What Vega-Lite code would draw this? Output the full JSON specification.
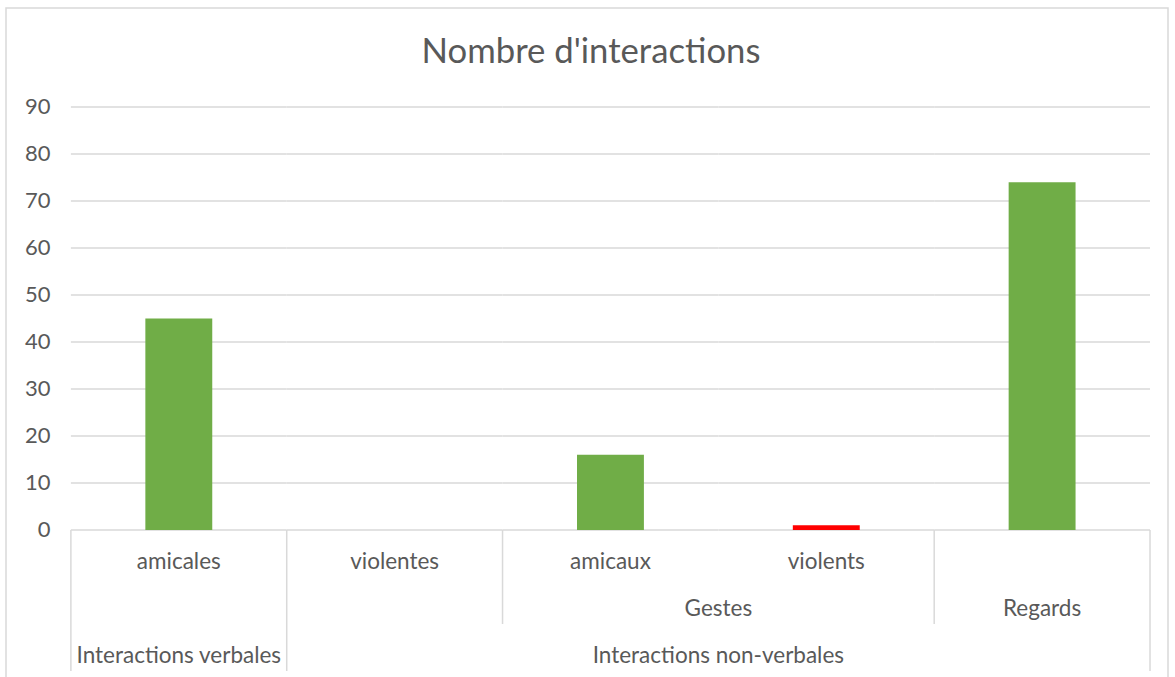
{
  "$schema": "https://vega.github.io/schema/vega-lite/v6.json",
  "autosize": {"type": "none"},
  "width": 1162,
  "height": 670,
  "padding": {"left": 6, "top": 8, "right": 7, "bottom": 0},
  "background": "white",
  "config": {
    "font": "Lato",
    "view": {"stroke": "#d9d9d9", "strokeWidth": 1.5}
  },
  "title": {
    "text": "Nombre d'interactions",
    "fontSize": 34.7,
    "fontWeight": "normal",
    "color": "#595959",
    "font": "Lato",
    "anchor": "middle",
    "dx": 4,
    "offset": -63
  },
  "datasets": {
    "bars": [
      {"categorie": "amicales", "nature": "amical", "nombre": 45},
      {"categorie": "violentes", "nature": "violent", "nombre": 0},
      {"categorie": "amicaux", "nature": "amical", "nombre": 16},
      {"categorie": "violents", "nature": "violent", "nombre": 1},
      {"categorie": "Regards", "nature": "regard", "nombre": 74}
    ],
    "grid": [
      {"categorie": "amicales", "valeurs": [0, 10, 20, 30, 40, 50, 60, 70, 80, 90]},
      {"categorie": "violentes", "valeurs": [0, 10, 20, 30, 40, 50, 60, 70, 80, 90]},
      {"categorie": "amicaux", "valeurs": [0, 10, 20, 30, 40, 50, 60, 70, 80, 90]},
      {"categorie": "violents", "valeurs": [0, 10, 20, 30, 40, 50, 60, 70, 80, 90]},
      {"categorie": "Regards", "valeurs": [0, 10, 20, 30, 40, 50, 60, 70, 80, 90]}
    ],
    "labelsCentre": [
      {"categorie": "amicales", "texte": "amicales", "niveau": 1},
      {"categorie": "violentes", "texte": "violentes", "niveau": 1},
      {"categorie": "amicaux", "texte": "amicaux", "niveau": 1},
      {"categorie": "violents", "texte": "violents", "niveau": 1},
      {"categorie": "Regards", "texte": "Regards", "niveau": 2},
      {"categorie": "amicales", "texte": "Interactions verbales", "niveau": 3}
    ],
    "labelsGroupe": [
      {"categorie": "violents", "texte": "Gestes", "niveau": 2},
      {"categorie": "violents", "texte": "Interactions non-verbales", "niveau": 3}
    ],
    "separateurs": [
      {"categorie": "amicales", "profondeur": 3},
      {"categorie": "violentes", "profondeur": 3},
      {"categorie": "amicaux", "profondeur": 2},
      {"categorie": "Regards", "profondeur": 2}
    ],
    "separateurFin": [
      {"categorie": "Regards", "profondeur": 3}
    ]
  },
  "resolve": {"scale": {"y": "independent"}},
  "layer": [
    {
      "layer": [
        {
          "data": {"name": "grid"},
          "transform": [{"flatten": ["valeurs"]}],
          "mark": {"type": "rect", "fill": null, "stroke": "#d9d9d9", "strokeWidth": 1.5},
          "encoding": {
            "x": {
              "field": "categorie", "type": "nominal", "sort": null,
              "scale": {
                "domain": ["amicales", "violentes", "amicaux", "violents", "Regards"],
                "paddingInner": 0, "paddingOuter": 0.192, "align": 0.783
              },
              "axis": null
            },
            "y": {
              "field": "valeurs", "type": "quantitative",
              "scale": {"domain": [-31.49, 111.06], "nice": false, "zero": false},
              "axis": {
                "values": [0, 10, 20, 30, 40, 50, 60, 70, 80, 90],
                "orient": "left", "offset": -44, "domain": false, "ticks": false, "tickSize": 0,
                "grid": false, "labelPadding": 0, "labelAlign": "right", "labelFontSize": 22, "labelColor": "#595959",
                "labelFont": "Lato", "title": null
              }
            },
            "y2": {"field": "valeurs"}
          }
        },
        {
          "data": {"name": "bars"},
          "mark": {"type": "bar", "width": {"band": 0.31}},
          "encoding": {
            "x": {"field": "categorie", "type": "nominal", "sort": null, "axis": null},
            "y": {"field": "nombre", "type": "quantitative"},
            "color": {
              "field": "nature", "type": "nominal",
              "scale": {"domain": ["amical", "violent", "regard"], "range": ["#70ad47", "#ff0000", "#70ad47"]},
              "legend": null
            }
          }
        }
      ]
    },
    {
      "layer": [
        {
          "data": {"name": "separateurs"},
          "mark": {"type": "rule", "color": "#d9d9d9", "strokeWidth": 1.5},
          "encoding": {
            "x": {"field": "categorie", "type": "nominal", "bandPosition": 0, "axis": null},
            "y": {"field": "profondeur", "type": "quantitative",
              "scale": {"domain": [-11.106, 3.149], "nice": false, "zero": false, "reverse": true},
              "axis": null},
            "y2": {"datum": 0}
          }
        },
        {
          "data": {"name": "separateurFin"},
          "mark": {"type": "rule", "color": "#d9d9d9", "strokeWidth": 1.5},
          "encoding": {
            "x": {"field": "categorie", "type": "nominal", "bandPosition": 1, "axis": null},
            "y": {"field": "profondeur", "type": "quantitative"},
            "y2": {"datum": 0}
          }
        },
        {
          "data": {"name": "labelsCentre"},
          "mark": {"type": "text", "baseline": "middle", "dy": -15, "fontSize": 22.5, "color": "#595959", "font": "Lato"},
          "encoding": {
            "x": {"field": "categorie", "type": "nominal", "bandPosition": 0.5, "axis": null},
            "y": {"field": "niveau", "type": "quantitative"},
            "text": {"field": "texte"}
          }
        },
        {
          "data": {"name": "labelsGroupe"},
          "mark": {"type": "text", "baseline": "middle", "dy": -15, "fontSize": 22.5, "color": "#595959", "font": "Lato"},
          "encoding": {
            "x": {"field": "categorie", "type": "nominal", "bandPosition": 0, "axis": null},
            "y": {"field": "niveau", "type": "quantitative"},
            "text": {"field": "texte"}
          }
        }
      ]
    }
  ]
}
